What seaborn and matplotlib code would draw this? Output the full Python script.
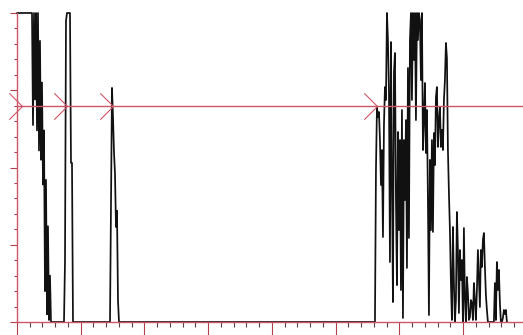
import numpy as np
import pandas as pd
import matplotlib
matplotlib.use("Agg")
import matplotlib.pyplot as plt
from matplotlib.path import Path
from matplotlib.ticker import MultipleLocator, NullFormatter
import seaborn as sns

# ---------------- data (x in axis units, y in axis units 0..20) ----------------
sample_step = 0.0784          # spacing between samples within a burst

burst1_start = 0.0
burst1 = [20, 20, 20, 20, 20, 20, 20, 20, 20, 20, 20, 20, 20, 20, 20, 20,
          12.75, 20, 14.4, 20, 12.4, 20, 11.1, 18.2, 10.5, 15.5, 8.9, 12.4,
          2.0, 9.2, 0.5, 6.2, 0.13, 3.0, 0]

burst2_start = 3.686
burst2 = [0, 3.9, 19.5, 20, 20, 20, 20, 10.3, 10.3, 0]

burst3_start = 7.294
burst3 = [0, 7.4, 15.15, 13.3, 11.0, 9.6, 6.15, 7.2, 1.42, 0]

burst4_start = 28.078
burst4 = [0, 9.84, 13.92, 13.27, 13.59, 11.78, 8.87, 11.13, 5.50, 12.75,
          15.21, 14.37, 20, 18.25, 14.89, 3.88, 18.12, 9.19, 1.29, 16.18,
          17.41, 7.90, 2.39, 12.30, 5.95, 11.78, 2.07, 13.72, 0.26, 11.78,
          7.90, 13.07, 3.50, 16.44, 5.44, 18.25, 20, 14.37, 20, 16.96,
          20, 13.07, 20, 18.25, 20, 19.55, 15.66, 20, 11.13, 13.07,
          15.47, 10.94, 13.72, 7.90, 0.45, 10.49, 5.95, 11.78, 5.83, 12.23,
          10.16, 14.56, 15.21, 11.33, 13.07, 13.92, 11.33, 12.43, 11.13, 14.37,
          15.66, 18.06, 17.09, 11.13, 8.35, 5.95, 2.52, 0.13, 6.15, 2.52,
          0, 1.42, 7.12, 4.66, 0.58, 4.66, 2.72, 4.01, 0, 6.08,
          1.42, 0, 2.91, 1.88, 0.13, 0.32, 1.42, 1.23, 0.13, 2.52,
          1.42, 0.13, 2.07, 4.66, 2.91, 0.97, 4.66, 3.56, 5.31, 5.76,
          3.56, 1.75, 0.78, 0, 0, 0, 0, 0, 0, 0,
          2.52, 0.13, 3.88, 2.07, 3.37, 1.23, 0, 0, 0.26, 0.78,
          0.52, 0.78, 0]

threshold = 14
crossing_x = [0.39, 3.92, 7.53, 28.24]

x_max = 39.69
y_max = 20

# ---------------- build table ----------------
frames = []
for start, vals in [(burst1_start, burst1), (burst2_start, burst2),
                    (burst3_start, burst3), (burst4_start, burst4)]:
    vals = np.asarray(vals, dtype=float)
    frames.append(pd.DataFrame({"t": start + np.arange(len(vals)) * sample_step,
                                "v": vals}))
df = pd.concat(frames, ignore_index=True)

# ---------------- style ----------------
sns.set_theme(style="white")
plt.rcParams["font.family"] = ["DejaVu Sans"]
red = "#cc5566"
tick_red = "#b04050"

fig = plt.figure(figsize=(5.23, 3.35), dpi=100)
fig.patch.set_facecolor("white")
ax = fig.add_axes([17 / 523, 13 / 335, 506 / 523, 309 / 335])
ax.set_facecolor("white")

sns.lineplot(data=df, x="t", y="v", ax=ax, estimator=None, sort=False,
             color="#111111", linewidth=1.25)
for ln in ax.get_lines():
    ln.set_clip_on(False)

ax.axhline(threshold, color=red, linewidth=1.0, zorder=3)

chevron = Path([(-1, 1), (0, 0), (-1, -1)],
               [Path.MOVETO, Path.LINETO, Path.LINETO])
ax.plot(crossing_x, [threshold] * len(crossing_x), linestyle="none",
        marker=chevron, markersize=19, markerfacecolor="none",
        markeredgecolor=red, markeredgewidth=0.8, clip_on=False, zorder=4)

ax.set_xlim(0, x_max)
ax.set_ylim(0, y_max)
ax.set_xlabel("")
ax.set_ylabel("")

for s in ["top", "right"]:
    ax.spines[s].set_visible(False)
for s in ["left", "bottom"]:
    ax.spines[s].set_color(red)
    ax.spines[s].set_linewidth(1.0)

ax.xaxis.set_major_locator(MultipleLocator(5))
ax.xaxis.set_minor_locator(MultipleLocator(1))
ax.yaxis.set_major_locator(MultipleLocator(5))
ax.yaxis.set_minor_locator(MultipleLocator(1))
ax.xaxis.set_major_formatter(NullFormatter())
ax.yaxis.set_major_formatter(NullFormatter())

ax.tick_params(axis="x", which="major", direction="out", length=9.4,
               width=0.8, color=tick_red, bottom=True)
ax.tick_params(axis="x", which="minor", direction="out", length=3.6,
               width=0.8, color="#604040", bottom=True)
ax.tick_params(axis="y", which="major", direction="out", length=5.0,
               width=0.8, color=tick_red, left=True)
ax.tick_params(axis="y", which="minor", direction="out", length=2.2,
               width=0.8, color=tick_red, left=True)

fig.savefig("out.png", dpi=100, facecolor="white")
